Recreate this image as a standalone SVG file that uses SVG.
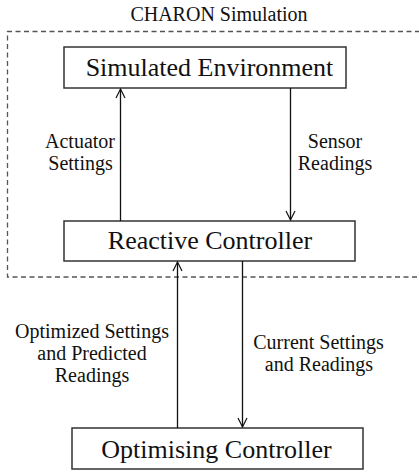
<svg xmlns="http://www.w3.org/2000/svg" width="419" height="474" viewBox="0 0 419 474">
<defs>
<marker id="arr" markerWidth="12" markerHeight="12" refX="10" refY="6" orient="auto" markerUnits="userSpaceOnUse">
<path d="M1,1.5 L10,6 L1,10.5" fill="none" stroke="#111" stroke-width="1.2"/>
</marker>
</defs>
<style>
text{font-family:"Liberation Serif","Times New Roman",serif;fill:#111}
.box{fill:#fff;stroke:#333;stroke-width:1.5}
.lbl{font-size:20px;text-anchor:middle}
.node{font-size:26px;text-anchor:middle}
.conn{stroke:#111;stroke-width:1.3;fill:none;marker-end:url(#arr)}
.dash{fill:none;stroke:#555;stroke-width:1.3;stroke-dasharray:5,3.5}
</style>
<rect width="419" height="474" fill="#fff"/>
<g id="simulation">
<text class="lbl" x="219" y="21">CHARON Simulation</text>
<path class="dash" d="M420,31.5 H7.5 V277 H420"/>
</g>
<g id="env">
<rect class="box" x="64" y="47" width="282" height="41"/>
<text class="node" x="209.5" y="76">Simulated Environment</text>
</g>
<g id="reactive">
<rect class="box" x="64" y="221" width="291" height="40"/>
<text class="node" x="210" y="249">Reactive Controller</text>
</g>
<g id="optimising">
<rect class="box" x="72" y="428" width="291" height="41"/>
<text class="node" x="216.5" y="457.5">Optimising Controller</text>
</g>
<g id="connectors">
<line class="conn" x1="120.5" y1="221" x2="120.5" y2="89"/>
<line class="conn" x1="290.5" y1="88" x2="290.5" y2="220"/>
<line class="conn" x1="177.5" y1="428" x2="177.5" y2="262"/>
<line class="conn" x1="242.5" y1="261" x2="242.5" y2="427"/>
</g>
<g id="labels">
<text class="lbl" x="80" y="148">Actuator</text>
<text class="lbl" x="80.5" y="170">Settings</text>
<text class="lbl" x="335" y="148">Sensor</text>
<text class="lbl" x="335" y="170">Readings</text>
<text class="lbl" x="92" y="338">Optimized Settings</text>
<text class="lbl" x="92" y="360">and Predicted</text>
<text class="lbl" x="92" y="382">Readings</text>
<text class="lbl" x="318.5" y="349">Current Settings</text>
<text class="lbl" x="319" y="371">and Readings</text>
</g>
</svg>
